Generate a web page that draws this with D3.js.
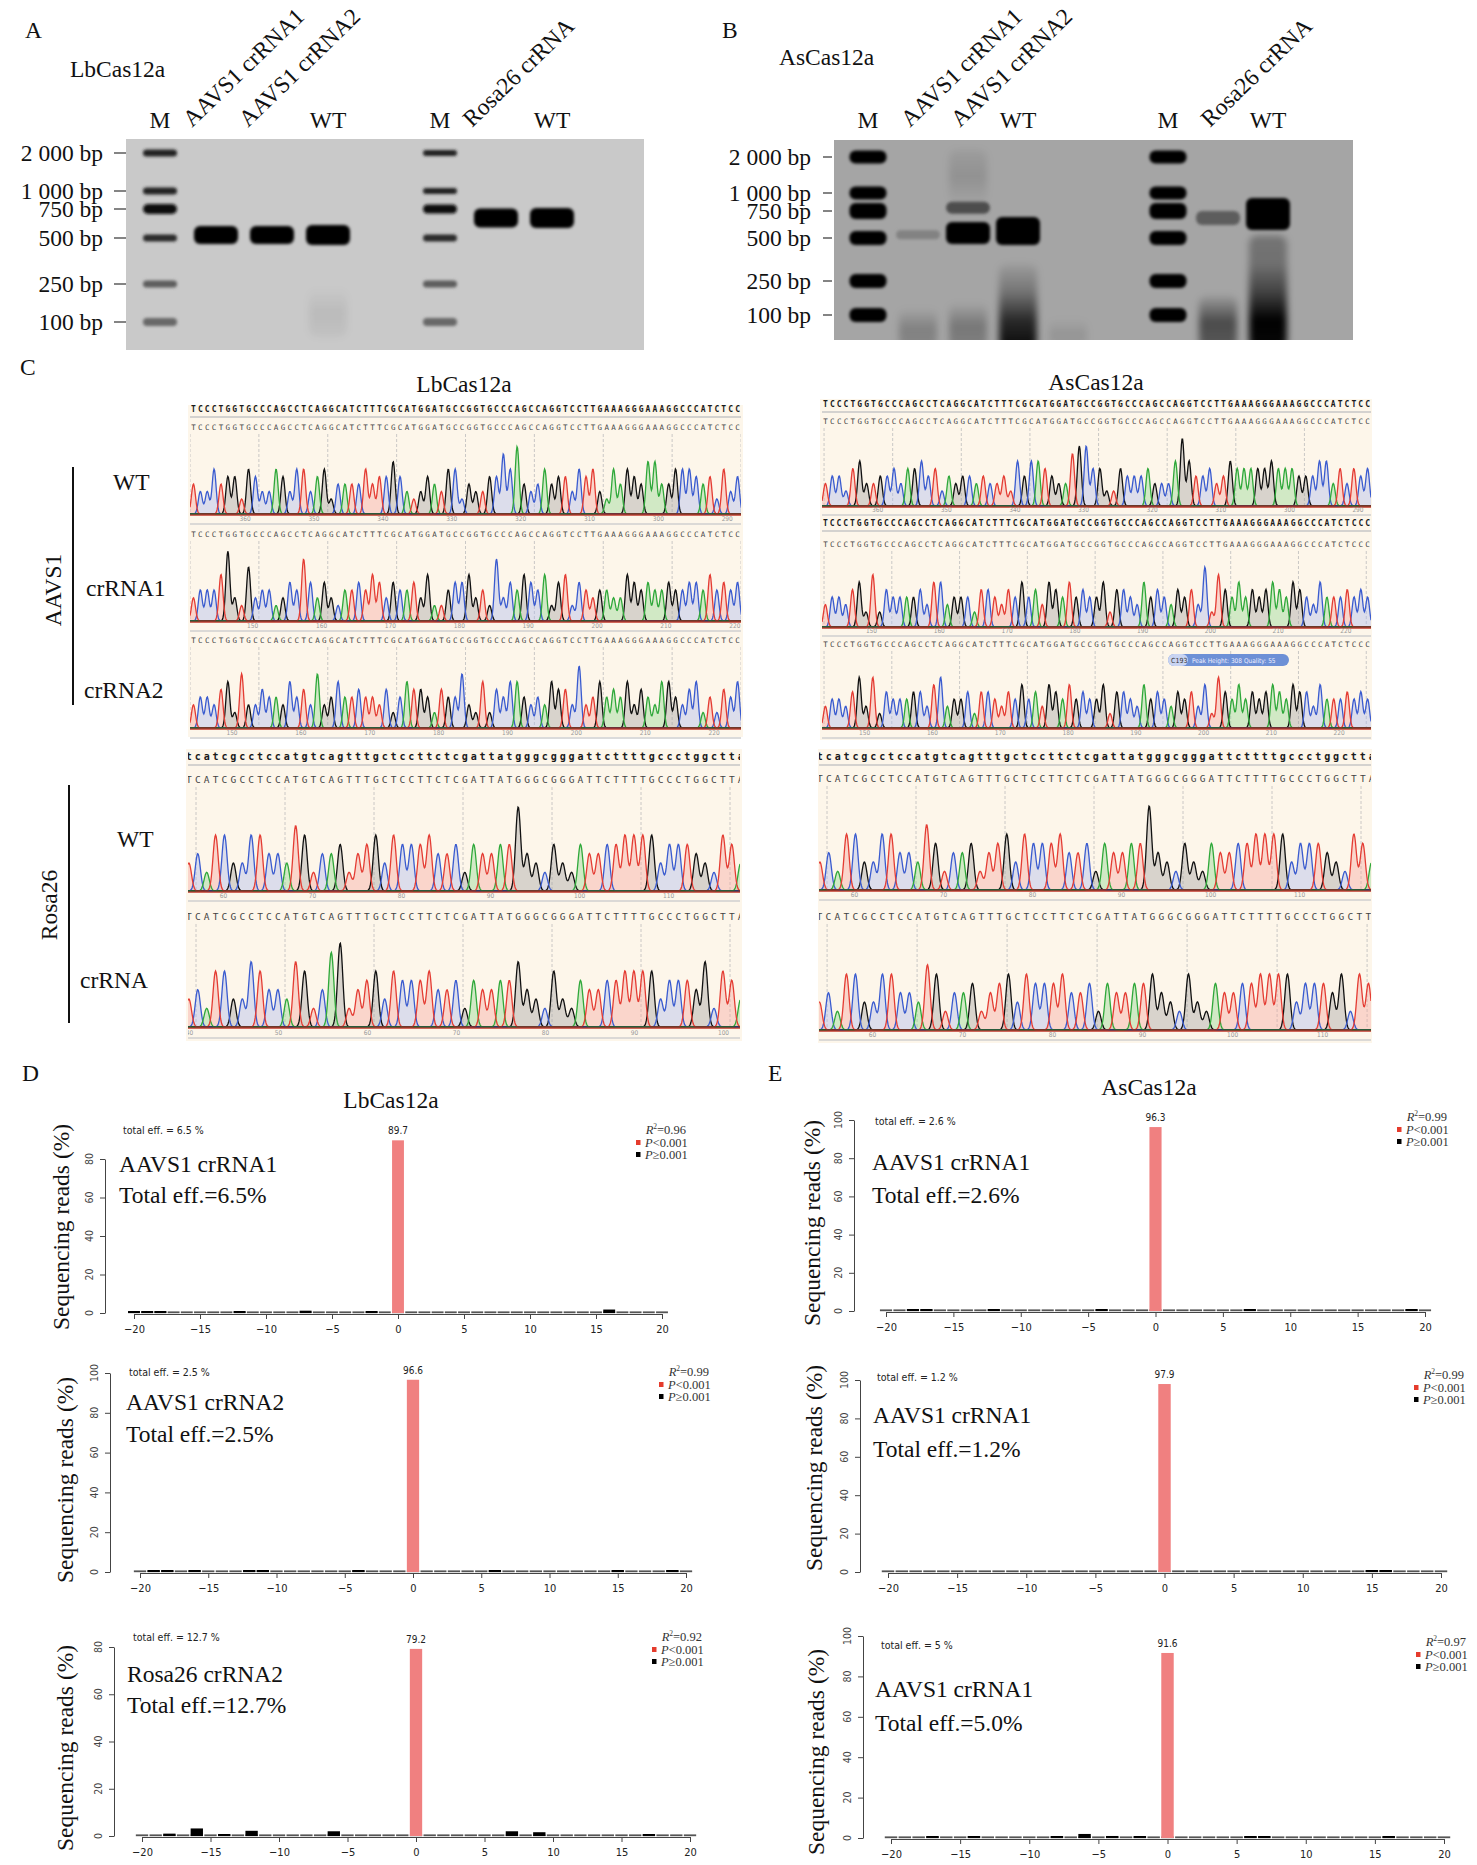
<!DOCTYPE html>
<html lang="en">
<head>
<meta charset="UTF-8">
<title>LbCas12a / AsCas12a editing</title>
<script src="https://d3js.org/d3.v7.min.js"></script>
<style>
    body { margin: 0; background: #fff; }
    svg text { font-family: "Liberation Serif", "Times New Roman", serif; }
    .lbl { font-size: 23.5px; fill: #111; }
    .sans { font-family: "Liberation Sans Narrow", "DejaVu Sans Condensed", "Liberation Sans", sans-serif !important; }
    .mono { font-family: "DejaVu Sans Mono", "Liberation Mono", monospace !important; }
</style>
</head>
<body>
<div id="fig"></div>
<script>

// ---------- gel data ----------
const ladderBp = [2000, 1000, 750, 500, 250, 100];
const ladderLabels = ["2 000 bp", "1 000 bp", "750 bp", "500 bp", "250 bp", "100 bp"];
const gelALaneNames = ["M", "AAVS1 crRNA1", "AAVS1 crRNA2", "WT", "", "M", "Rosa26 crRNA", "WT", ""];
const gelBLaneNames = ["M", "AAVS1 crRNA1", "AAVS1 crRNA2", "WT", "", "", "M", "Rosa26 crRNA", "WT", ""];
// [lane, bp, darkness, thickness]
const gelABands = [
    [0, 2000, .85, 7], [0, 1000, .85, 7], [0, 750, .95, 10], [0, 500, .8, 7], [0, 250, .55, 7], [0, 100, .5, 8],
    [5, 2000, .85, 6], [5, 1000, .85, 6], [5, 750, .95, 9], [5, 500, .8, 7], [5, 250, .55, 7], [5, 100, .5, 8],
    [1, 521, 1, 18], [2, 521, 1, 18], [3, 521, 1, 20], [6, 661, 1, 19], [7, 661, 1, 20]
];
const gelBBands = [
    [0, 2000, 1, 13], [0, 1000, 1, 13], [0, 750, 1, 16], [0, 500, 1, 14], [0, 250, 1, 14], [0, 100, 1, 14],
    [6, 2000, 1, 13], [6, 1000, 1, 13], [6, 750, 1, 16], [6, 500, 1, 14], [6, 250, 1, 14], [6, 100, 1, 14],
    [1, 525, .22, 9], [2, 790, .55, 12], [2, 539, 1, 22], [3, 555, 1, 28], [7, 675, .45, 14], [8, 716, 1, 32]
];
// [lane, top bp, bottom bp, opacities from top to bottom]
const gelASmears = [[3, 230, 70, [0, .07, .04]]];
const gelBSmears = [
    [1, 120, 40, [0, .22, .18]], [2, 140, 40, [0, .28, .22]], [2, 2300, 850, [.05, .12, .02]],
    [3, 330, 40, [.05, .3, .75, .95]], [4, 90, 40, [0, .1, .05]],
    [7, 170, 40, [.05, .55, .45]], [8, 520, 40, [.3, .32, .6, 1, .95]]
];

// ---------- sequencing traces ----------
const aavsRef = "TCCCTGGTGCCCAGCCTCAGGCATCTTTCGCATGGATGCCGGTGCCCAGCCAGGTCCTTGAAAGGGAAAGGCCCATCTCC";
const aavsRefLong = "TCCCTGGTGCCCAGCCTCAGGCATCTTTCGCATGGATGCCGGTGCCCAGCCAGGTCCTTGAAAGGGAAAGGCCCATCTCCC";
const rosaRef = "tcatcgcctccatgtcagtttgctccttctcgattatgggcgggattcttttgccctggctta";
const rosaRead = "TCATCGCCTCCATGTCAGTTTGCTCCTTCTCGATTATGGGCGGGATTCTTTTGCCCTGGCTTA";
const rosaRead2 = "TCATCGCCTCCATGTCAGTTTGCTCCTTCTCGATTATGGGCGGGATTCTTTTGCCCTGGCTT";
// peak heights per base, 0-9
const lbWtPeaks     = "4336455265 3365366356 2444464557 5323543662 4335586943 4645536563 2646547744 6665452635";
const lbCr1Peaks    = "3444693273 4423548535 3244546535 4453622455 6342835465 4625625434 4336545445 4455464545";
const lbCr2Peaks    = "3443562733 5443645373 4644544352 4655425447 3262546643 4365538346 4546354366 4356242546";
const asWtPeaks     = "3442563344 5355645243 4434334264 6654337885 5225444533 3696445346 5555565554 4466353545";
const asCr1Peaks    = "3443562725 4444536634 4425543546 4536546454 4625543645 4354538275 4645456546 5436444545 4";
const asCr2Peaks    = "3443573725 4445536734 4525543546 4536546454 4625543645 4354536275 4645456546 5536444545 4";
const lbRosaWt      = "3426633664 4376244524 5636555644 5254455943 2532544556 6663555432 653";
const lbRosaCr      = "3426633764 4376248924 5636555644 5254455743 2632544556 6663555472 653";
const asRosaWt      = "3426633664 4375244524 5636555644 5254455943 2532544556 6663555432 653";
const asRosaCr      = "3426633664 4376244524 5636555644 5254455643 2632544556 6663555462 65";

// ---------- indel histograms ----------
const positions = d3.range(-20, 21);
const xTicks = [-20, -15, -10, -5, 0, 5, 10, 15, 20];
const lbNames = ["AAVS1 crRNA1", "AAVS1 crRNA2", "Rosa26 crRNA2"];
const lbMain = [89.7, 96.6, 79.2];
const lbEff = ["6.5", "2.5", "12.7"];
const lbEffBig = ["6.5", "2.5", "12.7"];
const lbR2 = ["0.96", "0.99", "0.92"];
const lbTickMax = [80, 100, 80];
const lbMinor = [
    [[-20, .3], [-19, .2], [-18, 1.0], [-12, .5], [-7, 1.2], [-2, .4], [16, 1.8]],
    [[-19, .4], [-18, .4], [-16, .3], [-12, .2], [-11, .15], [-4, .8], [6, .2], [15, .1], [19, .3]],
    [[-18, 1.0], [-16, 3.2], [-14, .3], [-12, 2.2], [-6, 2.0], [7, 2.0], [9, 1.6], [17, .4]]
];
const asNames = ["AAVS1 crRNA1", "AAVS1 crRNA1", "AAVS1 crRNA1"];
const asMain = [96.3, 97.9, 91.6];
const asEff = ["2.6", "1.2", "5"];
const asEffBig = ["2.6", "1.2", "5.0"];
const asR2 = ["0.99", "0.99", "0.97"];
const asTickMax = [100, 100, 100];
const asMinor = [
    [[-18, .4], [-17, .2], [-12, .5], [-4, .3], [7, .4], [19, .4]],
    [[15, .3], [16, .9]],
    [[-17, .2], [-14, .3], [-8, .4], [-6, 2.0], [-4, 1.0], [-2, .2], [6, .3], [7, .3], [16, .4]]
];

// ================================================================
const svg = d3.select("#fig").append("svg").attr("width", 1477).attr("height", 1865);
const defs = svg.append("defs");
defs.append("filter").attr("id", "blur")
    .attr("x", "-30%").attr("y", "-80%").attr("width", "160%").attr("height", "260%")
    .append("feGaussianBlur").attr("stdDeviation", 1.7);
defs.append("filter").attr("id", "blur2")
    .attr("x", "-40%").attr("y", "-20%").attr("width", "180%").attr("height", "140%")
    .append("feGaussianBlur").attr("stdDeviation", 3.5);

function txt(parent, x, y, s, cls) {
    return parent.append("text").attr("x", x).attr("y", y).attr("class", cls || "lbl").text(s);
}

// ---------- gels ----------
function drawGel(cfg, names, bands, smears, gid) {
    const g = svg.append("g");
    defs.append("clipPath").attr("id", "clip" + gid).append("rect")
        .attr("x", cfg.x).attr("y", cfg.y).attr("width", cfg.w).attr("height", cfg.h);
    g.append("rect").attr("x", cfg.x).attr("y", cfg.y).attr("width", cfg.w).attr("height", cfg.h).attr("fill", cfg.bg);

    const lane = d3.scalePoint().domain(d3.range(names.length)).range(cfg.laneRange);
    const mig = d3.scaleLinear().domain(ladderBp.map(Math.log10)).range(cfg.ladderY);
    const y = bp => mig(Math.log10(bp));
    const inner = g.append("g").attr("clip-path", `url(#clip${gid})`);

    smears.forEach((s, i) => {
        const id = `sm${gid}${i}`;
        const grad = defs.append("linearGradient").attr("id", id).attr("x1", 0).attr("y1", 0).attr("x2", 0).attr("y2", 1);
        s[3].forEach((o, j) => grad.append("stop").attr("offset", j / (s[3].length - 1))
            .attr("stop-color", "#000").attr("stop-opacity", o));
        inner.append("rect")
            .attr("x", lane(s[0]) - cfg.sampleW / 2 + 3).attr("y", y(s[1]))
            .attr("width", cfg.sampleW - 6).attr("height", y(s[2]) - y(s[1]))
            .attr("rx", 8).attr("fill", `url(#${id})`).attr("filter", "url(#blur2)");
    });

    const shade = d3.interpolateRgb(cfg.bg, "#050505");
    inner.selectAll(".band").data(bands).join("rect")
        .attr("x", d => lane(d[0]) - (names[d[0]] === "M" ? cfg.ladderW : cfg.sampleW) / 2)
        .attr("y", d => y(d[1]) - d[3] / 2)
        .attr("width", d => names[d[0]] === "M" ? cfg.ladderW : cfg.sampleW)
        .attr("height", d => d[3])
        .attr("rx", d => Math.min(d[3] / 2, 6))
        .attr("fill", d => shade(d[2]))
        .attr("filter", "url(#blur)");

    ladderBp.forEach((bp, i) => {
        txt(g, cfg.labelRight, y(bp) + 8, ladderLabels[i]).attr("text-anchor", "end").attr("font-size", "22.5px");
        g.append("line").attr("x1", cfg.tick[0]).attr("x2", cfg.tick[1]).attr("y1", y(bp)).attr("y2", y(bp))
            .attr("stroke", "#333").attr("stroke-width", 1.2);
    });

    names.forEach((n, i) => {
        if (!n) return;
        if (n === "M" || n === "WT") {
            txt(g, lane(i), cfg.labelY, n).attr("text-anchor", "middle");
        } else {
            txt(g, 0, 0, n).attr("transform", `translate(${lane(i) + cfg.rotDx},${cfg.labelY}) rotate(-44)`);
        }
    });
    txt(g, cfg.titleX, cfg.titleY, cfg.title);
    txt(g, cfg.letterX, 38, cfg.letter).attr("font-size", "22px");
}

drawGel({ x: 126, y: 139, w: 518, h: 211, bg: "#c9c9c9", laneRange: [160, 608],
          ladderY: [153, 191, 209, 238, 284, 322], ladderW: 34, sampleW: 44,
          labelRight: 103, tick: [114, 126], labelY: 128, rotDx: -24,
          title: "LbCas12a", titleX: 70, titleY: 77, letter: "A", letterX: 25 },
        gelALaneNames, gelABands, gelASmears, "A");
drawGel({ x: 834, y: 140, w: 519, h: 200, bg: "#a5a5a5", laneRange: [868, 1318],
          ladderY: [157, 193, 211, 238, 281, 315], ladderW: 37, sampleW: 44,
          labelRight: 811, tick: [823, 832], labelY: 128, rotDx: -8,
          title: "AsCas12a", titleX: 779, titleY: 65, letter: "B", letterX: 722 },
        gelBLaneNames, gelBBands, gelBSmears, "B");

// ---------- chromatograms ----------
const baseColor = { A: "#2fa83a", C: "#3a5bcf", G: "#111111", T: "#e43c33" };
const baseFill  = { A: "#8fd68f", C: "#a9b9ee", G: "#a0a0a0", T: "#f4a49d" };

const cream = [[188, 405, 555, 332], [820, 399, 552, 341], [186, 749, 556, 292], [818, 749, 554, 294]];
cream.forEach(c => svg.append("rect").attr("x", c[0]).attr("y", c[1]).attr("width", c[2]).attr("height", c[3]).attr("fill", "#fdf6ea"));

const traceRows = [
    { x0: 190, x1: 741, ref: aavsRef, refY: 412, seq: aavsRef, seqY: 430, base: 514, num: 521, hmax: 60, fs: 7.5, peaks: lbWtPeaks, numStart: 360, numDir: -1, numIdx: 7.5, dash: 0 },
    { x0: 190, x1: 741, seq: aavsRef, seqY: 537, base: 621, num: 628, hmax: 62, fs: 7.5, peaks: lbCr1Peaks, numStart: 150, numDir: 1, numIdx: 8.6, dash: 0 },
    { x0: 190, x1: 741, seq: aavsRef, seqY: 643, base: 728, num: 735, hmax: 62, fs: 7.5, peaks: lbCr2Peaks, numStart: 150, numDir: 1, numIdx: 5.6, dash: 0 },
    { x0: 822, x1: 1371, ref: aavsRef, refY: 407, seq: aavsRef, seqY: 424, base: 506, num: 512, hmax: 60, fs: 7.5, peaks: asWtPeaks, numStart: 360, numDir: -1, numIdx: 7.6, dash: 0.3 },
    { x0: 822, x1: 1371, ref: aavsRefLong, refY: 526, seq: aavsRefLong, seqY: 547, base: 627, num: 633, hmax: 60, fs: 7.5, peaks: asCr1Peaks, numStart: 150, numDir: 1, numIdx: 6.8, dash: 0.3 },
    { x0: 822, x1: 1371, seq: aavsRefLong, seqY: 647, base: 728, num: 735, hmax: 58, fs: 7.5, peaks: asCr2Peaks, numStart: 150, numDir: 1, numIdx: 5.8, dash: 0.3, tip: true },
    { x0: 188, x1: 740, step: 8.9, off: 0.1, ref: rosaRef, refY: 760, seq: rosaRead, seqY: 783, base: 891, num: 898, hmax: 84, fs: 9.5, peaks: lbRosaWt, numStart: 60, numDir: 1, numIdx: 3.9, dash: 0.9 },
    { x0: 188, x1: 740, step: 8.9, off: 0.1, seq: rosaRead, seqY: 920, base: 1027, num: 1035, hmax: 84, fs: 9.5, peaks: lbRosaCr, numStart: 40, numDir: 1, numIdx: 0.07, dash: 0.9 },
    { x0: 819, x1: 1371, step: 8.9, off: 0.1, ref: rosaRef, refY: 760, seq: rosaRead, seqY: 782, base: 890, num: 897, hmax: 84, fs: 9.5, peaks: asRosaWt, numStart: 60, numDir: 1, numIdx: 3.9, dash: 0.9 },
    { x0: 819, x1: 1371, step: 9.0, off: 0.05, seq: rosaRead2, seqY: 920, base: 1030, num: 1037, hmax: 84, fs: 9.5, peaks: asRosaCr, numStart: 60, numDir: 1, numIdx: 5.9, dash: 0.9 }
];

function drawTrace(r, k) {
    const n = r.seq.length;
    const step = r.step || (r.x1 - r.x0) / n;
    const off = r.off !== undefined ? r.off : 0.5;
    const bx = d3.scaleLinear().domain([0, 1]).range([r.x0 + off * step, r.x0 + (off + 1) * step]);
    // the AAVS1 traces are drawn a little taller: digit 8 reaches hmax
    const hy = d3.scaleLinear().domain([0, r.fs < 9 ? 8 : 9]).range([r.base, r.base - r.hmax]);
    const h = r.peaks.replace(/\s/g, "").split("").map(Number);
    const top = (r.ref ? r.refY : r.seqY) - 11;

    defs.append("clipPath").attr("id", "tc" + k).append("rect")
        .attr("x", r.x0).attr("y", top).attr("width", r.x1 - r.x0).attr("height", r.num + 4 - top);
    const g = svg.append("g").attr("clip-path", `url(#tc${k})`);

    // dashed guide lines every 10 bases
    d3.range(0, n + 10, 10).forEach(i => {
        const x = r.x0 + (r.dash + i) * step;
        g.append("line").attr("x1", x).attr("x2", x).attr("y1", r.seqY + 4).attr("y2", r.base)
            .attr("stroke", "#bdbdbd").attr("stroke-width", 0.8).attr("stroke-dasharray", "3,2");
    });

    if (r.ref) {
        g.selectAll(".rf").data(r.ref.split("")).join("text")
            .attr("class", "mono").attr("x", (d, i) => bx(i)).attr("y", r.refY)
            .attr("text-anchor", "middle").attr("font-size", r.fs + 0.5).attr("font-weight", "bold")
            .attr("fill", "#1a1a1a").text(d => d);
        g.append("line").attr("x1", r.x0).attr("x2", r.x1).attr("y1", r.refY + 5).attr("y2", r.refY + 5)
            .attr("stroke", "#c6c6c6").attr("stroke-width", 1.6);
    }
    g.selectAll(".sq").data(r.seq.split("")).join("text")
        .attr("class", "mono").attr("x", (d, i) => bx(i)).attr("y", r.seqY)
        .attr("text-anchor", "middle").attr("font-size", r.fs).attr("fill", "#444").text(d => d);

    const sigma = step * 0.29;
    const xs = d3.range(r.x0, r.x1 + 0.5, 0.6);
    const curves = "GCAT".split("").map(ch => {
        const idx = d3.range(n).filter(i => r.seq[i].toUpperCase() === ch);
        return { ch, pts: xs.map(x => {
            let v = 0;
            idx.forEach(i => {
                const dx = (x - bx(i)) / sigma;
                if (Math.abs(dx) < 5) v += (h[i] || 0) * Math.exp(-0.5 * dx * dx);
            });
            return [x, v];
        }) };
    });
    const area = d3.area().x(d => d[0]).y0(r.base).y1(d => hy(d[1]));
    const line = d3.line().x(d => d[0]).y(d => hy(d[1]));
    curves.forEach(c => g.append("path").attr("d", area(c.pts)).attr("fill", baseFill[c.ch]).attr("opacity", 0.4));
    curves.forEach(c => g.append("path").attr("d", line(c.pts)).attr("fill", "none")
        .attr("stroke", baseColor[c.ch]).attr("stroke-width", 1.3));

    g.append("line").attr("x1", r.x0).attr("x2", r.x1).attr("y1", r.base).attr("y2", r.base)
        .attr("stroke", "#222").attr("stroke-width", 1.2);
    g.append("line").attr("x1", r.x0).attr("x2", r.x1).attr("y1", r.base + 1.2).attr("y2", r.base + 1.2)
        .attr("stroke", "#c0392b").attr("stroke-width", 1.2);

    d3.range(0, n, 10).forEach((i, j) => {
        g.append("text").attr("class", "sans").attr("x", bx(r.numIdx + i)).attr("y", r.num)
            .attr("text-anchor", "middle").attr("font-size", 6.5).attr("fill", "#9a9a9a")
            .text(r.numStart + r.numDir * 10 * j);
    });
    g.append("line").attr("x1", r.x0).attr("x2", r.x1).attr("y1", r.num + 3).attr("y2", r.num + 3)
        .attr("stroke", "#cfcfcf").attr("stroke-width", 1.6);

    if (r.tip) {
        const t = svg.append("g");
        t.append("rect").attr("x", 1168).attr("y", 654).attr("width", 121).attr("height", 12).attr("rx", 6).attr("fill", "#6d90d6");
        t.append("rect").attr("x", 1168).attr("y", 654).attr("width", 20).attr("height", 12).attr("rx", 6).attr("fill", "#c9d4f2");
        t.append("text").attr("class", "sans").attr("x", 1171).attr("y", 663).attr("font-size", 7).attr("fill", "#333").text("C193");
        t.append("text").attr("class", "sans").attr("x", 1192).attr("y", 663).attr("font-size", 6.5).attr("fill", "#eef")
            .text("Peak Height: 308     Quality: 55");
    }
}
traceRows.forEach(drawTrace);

txt(svg, 20, 375, "C").attr("font-size", "22px");
txt(svg, 464, 392, "LbCas12a").attr("text-anchor", "middle");
txt(svg, 1096, 390, "AsCas12a").attr("text-anchor", "middle");
txt(svg, 113, 490, "WT");
txt(svg, 86, 596, "crRNA1");
txt(svg, 84, 698, "crRNA2");
txt(svg, 0, 0, "AAVS1").attr("text-anchor", "middle").attr("transform", "translate(61,590) rotate(-90)");
svg.append("line").attr("x1", 73).attr("x2", 73).attr("y1", 467).attr("y2", 705).attr("stroke", "#111").attr("stroke-width", 2);
txt(svg, 117, 847, "WT");
txt(svg, 80, 988, "crRNA");
txt(svg, 0, 0, "Rosa26").attr("text-anchor", "middle").attr("transform", "translate(57,905) rotate(-90)");
svg.append("line").attr("x1", 69).attr("x2", 69).attr("y1", 785).attr("y2", 1023).attr("stroke", "#111").attr("stroke-width", 2);

// ---------- indel histograms ----------
const lbLayout = [
    { x0: 134, x1: 662, y0: 1313, yTop: 1159, axisX: 105, labX: 62, labY: 1227, effX: 123, effY: 1134, nameX: 119, nameY: 1172, totY: 1203, legX: 686, legY: 1134 },
    { x0: 140, x1: 686, y0: 1572, yTop: 1373, axisX: 110, labX: 66, labY: 1480, effX: 129, effY: 1376, nameX: 126, nameY: 1410, totY: 1442, legX: 709, legY: 1376 },
    { x0: 142, x1: 690, y0: 1836, yTop: 1647, axisX: 114, labX: 66, labY: 1748, effX: 133, effY: 1641, nameX: 127, nameY: 1682, totY: 1713, legX: 702, legY: 1641 }
];
const asLayout = [
    { x0: 886, x1: 1425, y0: 1311, yTop: 1120, axisX: 854, labX: 813, labY: 1223, effX: 875, effY: 1125, nameX: 872, nameY: 1170, totY: 1203, legX: 1447, legY: 1121 },
    { x0: 888, x1: 1441, y0: 1572, yTop: 1380, axisX: 860, labX: 815, labY: 1468, effX: 877, effY: 1381, nameX: 873, nameY: 1423, totY: 1457, legX: 1464, legY: 1379 },
    { x0: 891, x1: 1444, y0: 1838, yTop: 1636, axisX: 863, labX: 817, labY: 1752, effX: 881, effY: 1649, nameX: 875, nameY: 1697, totY: 1731, legX: 1466, legY: 1646 }
];

function drawHist(c, main, minor, name, eff, effBig, r2, tickMax) {
    const g = svg.append("g");
    const x = d3.scaleLinear().domain([-20, 20]).range([c.x0, c.x1]);
    const y = d3.scaleLinear().domain([0, tickMax]).range([c.y0, c.yTop]);
    const bw = (x(1) - x(0)) * 0.9;

    g.selectAll(".z").data(positions).join("rect")
        .attr("x", d => x(d) - bw / 2).attr("y", c.y0 - 1.6).attr("width", bw).attr("height", 1.8).attr("fill", "#555");
    g.selectAll(".mn").data(minor).join("rect")
        .attr("x", d => x(d[0]) - bw / 2).attr("y", d => Math.min(y(d[1]), c.y0 - 2))
        .attr("width", bw).attr("height", d => Math.max(c.y0 - y(d[1]), 2)).attr("fill", "#000");
    g.append("rect").attr("x", x(0) - bw / 2).attr("y", y(main)).attr("width", bw).attr("height", c.y0 - y(main)).attr("fill", "#f08080");
    g.append("text").attr("class", "sans").attr("x", x(0)).attr("y", y(main) - 6).attr("text-anchor", "middle")
        .attr("font-size", 10).attr("fill", "#222").text(main.toFixed(1));

    const xa = g.append("g").attr("transform", `translate(0,${c.y0 + 1})`)
        .call(d3.axisBottom(x).tickValues(xTicks).tickSize(5).tickSizeOuter(0));
    xa.select(".domain").attr("stroke", "#444");
    xa.selectAll(".tick line").attr("stroke", "#444");
    xa.selectAll("text").attr("class", "sans").attr("font-size", 11).attr("fill", "#222").attr("dy", "1.0em");

    const ya = g.append("g").attr("transform", `translate(${c.axisX},0)`)
        .call(d3.axisLeft(y).tickValues(d3.range(0, tickMax + 1, 20)).tickSize(5).tickSizeOuter(0).tickFormat(""));
    ya.select(".domain").attr("stroke", "#444");
    ya.selectAll(".tick line").attr("stroke", "#444");
    g.selectAll(".yl").data(d3.range(0, tickMax + 1, 20)).join("text")
        .attr("class", "sans").attr("font-size", 10.5).attr("fill", "#444").attr("text-anchor", "middle")
        .attr("transform", d => `translate(${c.axisX - 12},${y(d)}) rotate(-90)`).text(d => d);

    txt(g, 0, 0, "Sequencing reads (%)").attr("text-anchor", "middle").attr("fill", "#222")
        .attr("transform", `translate(${c.labX + 7},${c.labY}) rotate(-90)`);
    g.append("text").attr("class", "sans").attr("x", c.effX).attr("y", c.effY).attr("font-size", 10.5).attr("fill", "#222")
        .text(`total eff. = ${eff} %`);
    txt(g, c.nameX, c.nameY, name);
    txt(g, c.nameX, c.totY, `Total eff.=${effBig}%`);

    const leg = g.append("text").attr("x", c.legX).attr("y", c.legY).attr("text-anchor", "end")
        .attr("font-size", 12.5).attr("fill", "#333");
    leg.append("tspan").attr("font-style", "italic").text("R");
    leg.append("tspan").attr("font-size", 7.5).attr("dy", -5).text("2");
    leg.append("tspan").attr("dy", 5).text("=" + r2);
    [["<0.001", "#e53b2c"], ["\u22650.001", "#000"]].forEach((p, i) => {
        const yy = c.legY + 13 + i * 12;
        g.append("rect").attr("x", c.legX - 50).attr("y", yy - 7).attr("width", 4.5).attr("height", 5).attr("fill", p[1]);
        const t = g.append("text").attr("x", c.legX - 41).attr("y", yy).attr("font-size", 12.5).attr("fill", "#333");
        t.append("tspan").attr("font-style", "italic").text("P");
        t.append("tspan").text(p[0]);
    });
}

lbLayout.forEach((c, i) => drawHist(c, lbMain[i], lbMinor[i], lbNames[i], lbEff[i], lbEffBig[i], lbR2[i], lbTickMax[i]));
asLayout.forEach((c, i) => drawHist(c, asMain[i], asMinor[i], asNames[i], asEff[i], asEffBig[i], asR2[i], asTickMax[i]));

txt(svg, 22, 1081, "D").attr("font-size", "22px");
txt(svg, 391, 1108, "LbCas12a").attr("text-anchor", "middle");
txt(svg, 768, 1081, "E").attr("font-size", "22px");
txt(svg, 1149, 1095, "AsCas12a").attr("text-anchor", "middle");
</script>
</body>
</html>
